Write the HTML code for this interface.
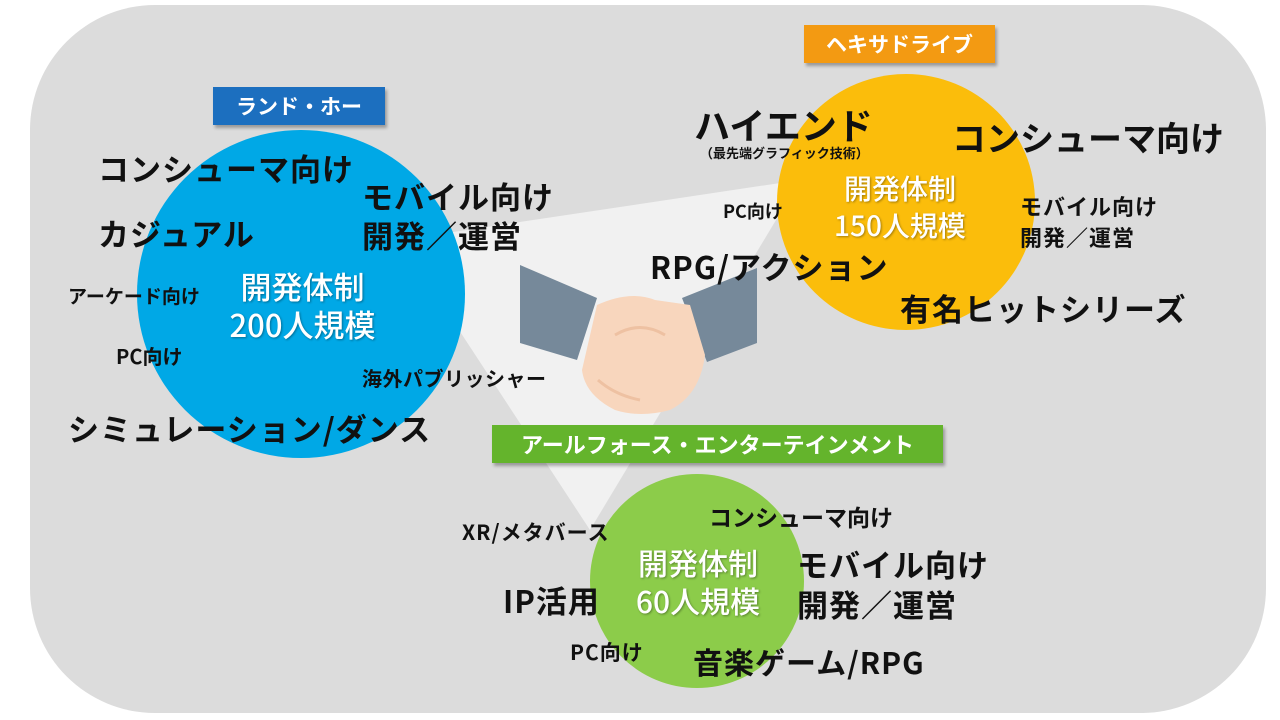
<!DOCTYPE html>
<html><head><meta charset="utf-8"><style>
body{margin:0;width:1280px;height:720px;background:#fff;position:relative;overflow:hidden;font-family:"Liberation Sans","Noto Sans CJK JP",sans-serif;font-weight:bold}
.t{position:absolute;white-space:nowrap;line-height:1;color:#111;font-family:"Noto Sans CJK JP","Liberation Sans",sans-serif;font-weight:bold}
.b{letter-spacing:1px}
.w{color:#fff;text-shadow:1px 1px 2px rgba(0,0,0,.35);font-weight:500;text-align:center}
.lab{position:absolute;color:#fff;display:flex;align-items:center;justify-content:center;box-shadow:2px 3px 3px rgba(0,0,0,.3);font-family:"Noto Sans CJK JP",sans-serif;font-weight:bold}
</style></head><body>
<svg width="1280" height="720" style="position:absolute;left:0;top:0">
<rect x="30" y="5" width="1236" height="708" rx="125" fill="#dcdcdc"/>
<polygon points="400,240 800,180 590,530" fill="#f1f1f1"/>
<circle cx="301" cy="294" r="164" fill="#00a8e6"/>
<ellipse cx="906" cy="202" rx="129" ry="128" fill="#fbbd0b"/>
<circle cx="697" cy="581" r="107" fill="#8ccc4a"/>
<polygon points="520,265 597,298 577,360 520,343" fill="#76899a"/>
<polygon points="682,298 757,268 757,343 707,362" fill="#76899a"/>
<path d="M597,305 Q630,290 655,300 L690,305 L705,355 Q700,395 670,410 Q640,418 615,410 Q585,395 582,370 Z" fill="#f8d6bd"/>
<path d="M615,335 Q640,320 665,335 M598,380 Q615,395 640,400" stroke="#eec1a2" stroke-width="3" fill="none"/>
</svg>
<div class="lab" style="left:213px;top:87px;width:172px;height:38px;background:#1c6fbf;font-size:21px">ランド・ホー</div>
<div class="lab" style="left:804px;top:25px;width:191px;height:38px;background:#f39a12;font-size:21px">ヘキサドライブ</div>
<div class="lab" style="left:492px;top:425px;width:451px;height:38px;background:#64b42c;font-size:22px">アールフォース・エンターテインメント</div>

<div class="t b" style="left:98px;top:152px;font-size:31px">コンシューマ向け</div>
<div class="t b" style="left:362px;top:180px;font-size:31px">モバイル向け</div>
<div class="t b" style="left:362px;top:219px;font-size:31px">開発／運営</div>
<div class="t b" style="left:98px;top:217px;font-size:31px">カジュアル</div>
<div class="t w" style="left:200px;top:267px;width:205px;font-size:31px;line-height:38px">開発体制<br>200人規模</div>
<div class="t" style="left:68px;top:286px;font-size:19px">アーケード向け</div>
<div class="t" style="left:116px;top:346px;font-size:20px">PC向け</div>
<div class="t" style="left:362px;top:368px;font-size:20px;letter-spacing:.5px">海外パブリッシャー</div>
<div class="t b" style="left:68px;top:412px;font-size:31px">シミュレーション/ダンス</div>

<div class="t" style="left:694px;top:106px;font-size:36px">ハイエンド</div>
<div class="t" style="left:700px;top:146px;font-size:13px">（最先端グラフィック技術）</div>
<div class="t" style="left:952px;top:120px;font-size:34px">コンシューマ向け</div>
<div class="t w" style="left:800px;top:170px;width:200px;font-size:28px;line-height:37px">開発体制<br>150人規模</div>
<div class="t" style="left:723px;top:202px;font-size:18px">PC向け</div>
<div class="t b" style="left:1020px;top:195px;font-size:22px">モバイル向け</div>
<div class="t b" style="left:1020px;top:226px;font-size:22px">開発／運営</div>
<div class="t b" style="left:650px;top:250px;font-size:31px">RPG/アクション</div>
<div class="t b" style="left:900px;top:292px;font-size:31px">有名ヒットシリーズ</div>

<div class="t b" style="left:462px;top:522px;font-size:21px">XR/メタバース</div>
<div class="t" style="left:709px;top:505px;font-size:23px">コンシューマ向け</div>
<div class="t w" style="left:598px;top:543px;width:200px;font-size:30px;line-height:38px">開発体制<br>60人規模</div>
<div class="t b" style="left:797px;top:548px;font-size:31px">モバイル向け</div>
<div class="t b" style="left:797px;top:588px;font-size:31px">開発／運営</div>
<div class="t b" style="left:503px;top:584px;font-size:31px">IP活用</div>
<div class="t b" style="left:570px;top:642px;font-size:21px">PC向け</div>
<div class="t b" style="left:693px;top:646px;font-size:30px">音楽ゲーム/RPG</div>
</body></html>
